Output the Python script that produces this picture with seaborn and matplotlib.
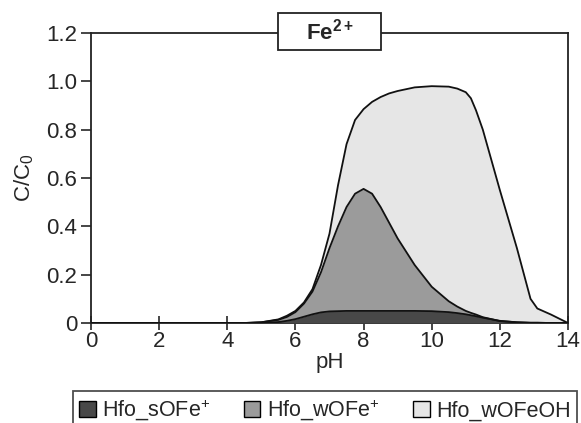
import numpy as np
import pandas as pd
import matplotlib
matplotlib.use("Agg")
import matplotlib.pyplot as plt
import seaborn as sns
from matplotlib.patches import Patch, Rectangle

# ---- data (cumulative stacked tops) ----
ph = [0, 4.5, 5.0, 5.5, 5.75, 6.0, 6.25, 6.5, 6.75, 7.0, 7.25, 7.5, 7.75, 8.0, 8.25,
      8.5, 8.75, 9.0, 9.5, 10.0, 10.5, 10.75, 11.0, 11.15, 11.3, 11.5, 12.0, 12.5,
      12.9, 13.1, 13.5, 14.0]
s_ofe = [0, 0, 0.001, 0.004, 0.009, 0.016, 0.026, 0.036, 0.044, 0.048, 0.049, 0.05,
         0.05, 0.05, 0.05, 0.05, 0.05, 0.05, 0.05, 0.049, 0.045, 0.041, 0.036, 0.032,
         0.028, 0.022, 0.009, 0.003, 0.001, 0.001, 0, 0]
w_ofe_top = [0, 0, 0.003, 0.013, 0.025, 0.045, 0.08, 0.13, 0.21, 0.31, 0.40, 0.48,
             0.535, 0.555, 0.535, 0.48, 0.415, 0.35, 0.24, 0.15, 0.09, 0.068, 0.05,
             0.042, 0.035, 0.024, 0.008, 0.003, 0.001, 0.001, 0, 0]
w_ofeoh_top = [0, 0, 0.003, 0.015, 0.03, 0.05, 0.085, 0.14, 0.24, 0.37, 0.57, 0.74,
               0.84, 0.885, 0.915, 0.935, 0.95, 0.96, 0.975, 0.98, 0.978, 0.97, 0.955,
               0.93, 0.88, 0.8, 0.55, 0.31, 0.1, 0.06, 0.035, 0]
labels = ["Hfo_sOFe$^{+}$", "Hfo_wOFe$^{+}$", "Hfo_wOFeOH"]
colors = ["#484848", "#9b9b9b", "#e6e6e6"]
xticks = [0, 2, 4, 6, 8, 10, 12, 14]
yticks = [0, 0.2, 0.4, 0.6, 0.8, 1.0, 1.2]
ytick_labels = ["0", "0.2", "0.4", "0.6", "0.8", "1.0", "1.2"]

sns.set_style("ticks")
plt.rcParams["font.family"] = ["Liberation Sans", "DejaVu Sans"]
plt.rcParams["mathtext.fontset"] = "custom"
plt.rcParams["mathtext.rm"] = "Liberation Sans"
plt.rcParams["mathtext.it"] = "Liberation Sans:italic"
plt.rcParams["mathtext.bf"] = "Liberation Sans:bold"

fig = plt.figure(figsize=(5.81, 4.23), dpi=100)
ax = fig.add_axes([91 / 581, 1 - 323 / 423, (568 - 91) / 581, (323 - 33) / 423])

df = pd.DataFrame({"pH": ph, "s": s_ofe, "w": w_ofe_top, "oh": w_ofeoh_top})

ax.fill_between(df["pH"], 0, df["oh"], color=colors[2], lw=0, zorder=1)
ax.fill_between(df["pH"], 0, df["w"], color=colors[1], lw=0, zorder=2)
ax.fill_between(df["pH"], 0, df["s"], color=colors[0], lw=0, zorder=3)
for col in ["oh", "w", "s"]:
    sns.lineplot(data=df, x="pH", y=col, ax=ax, color="#111111", lw=1.3, zorder=4)

ax.set_xlim(0, 14)
ax.set_ylim(0, 1.2)
ax.set_xticks(xticks)
ax.set_yticks(yticks)
ax.set_yticklabels(ytick_labels)
ax.tick_params(axis="x", direction="inout", length=10, width=1.2, labelsize=16, pad=1)
ax.tick_params(axis="y", direction="out", length=7, width=1.2, labelsize=16, pad=3)
for sp in ax.spines.values():
    sp.set_visible(True)
    sp.set_color("#222222")
    sp.set_linewidth(1.3)
ax.set_xlabel("pH", fontsize=16, labelpad=0)
ax.set_ylabel("C/C$_0$", fontsize=16, labelpad=7)

# title box straddling the top edge
fig.patches.append(Rectangle((278 / 581, 1 - 50 / 423), 103 / 581, 37 / 423,
                             transform=fig.transFigure, facecolor="white",
                             edgecolor="#222222", lw=1.3, zorder=10))
fig.text(329.5 / 581, 1 - 32 / 423, r"$\mathbf{Fe^{2+}}$", ha="center", va="center",
         fontsize=16, zorder=11)

handles = [Patch(facecolor=c, edgecolor="black", lw=1.0) for c in colors]
leg = fig.legend(handles, labels, loc="upper left", ncol=3,
                 bbox_to_anchor=(73 / 581, 1 - 391 / 423), borderaxespad=0,
                 fontsize=15.5, frameon=True, fancybox=False, edgecolor="#222222",
                 handlelength=0.75, handleheight=0.75, handletextpad=0.3,
                 columnspacing=1.57, borderpad=0.3)
leg.get_frame().set_linewidth(1.3)

fig.savefig("out.png", dpi=100)
